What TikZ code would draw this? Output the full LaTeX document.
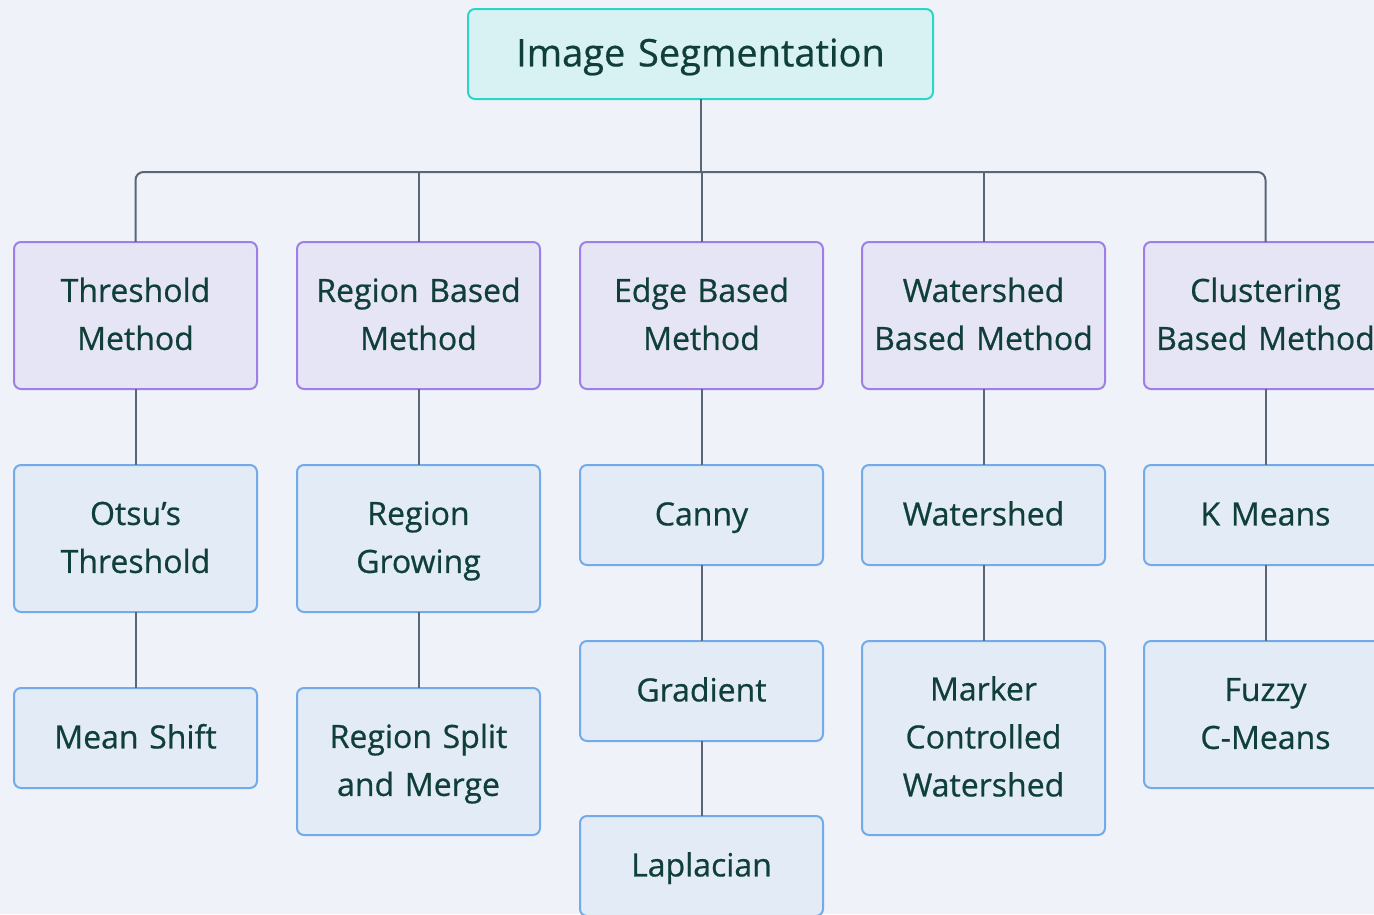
\documentclass[tikz,border=0pt]{standalone}
\usepackage{fontspec}
\setmainfont{Open Sans}[FakeBold=0.6]
\definecolor{bg}{HTML}{EFF3F9}
\definecolor{rootfill}{HTML}{D8F2F4}
\definecolor{rootline}{HTML}{2DD4C8}
\definecolor{purfill}{HTML}{E6E5F6}
\definecolor{purline}{HTML}{A07EE8}
\definecolor{bluefill}{HTML}{E2EBF6}
\definecolor{blueline}{HTML}{72AAEA}
\definecolor{txt}{HTML}{0F3F38}
\definecolor{conn}{HTML}{5A6675}
\tikzset{
  box/.style={draw, line width=2pt, rounded corners=7pt, anchor=north west,
    outer sep=0pt, minimum width=243pt, text width=240pt, align=center, inner sep=0pt,
    text=txt, font=\fontsize{32}{48}\selectfont,
    execute at begin node={\rule{0pt}{0.9em}},
    execute at end node={\rule[-0.25em]{0pt}{0.25em}}},
  rootbox/.style={box, fill=rootfill, draw=rootline, minimum width=465pt, text width=460pt,
    minimum height=90pt, font=\fontsize{38}{48}\selectfont},
  catbox/.style={box, fill=purfill, draw=purline, minimum height=147pt},
  one/.style={box, fill=bluefill, draw=blueline, minimum height=100pt},
  two/.style={box, fill=bluefill, draw=blueline, minimum height=147pt},
  three/.style={box, fill=bluefill, draw=blueline, minimum height=194pt},
  link/.style={draw=conn, line width=2pt}
}
\begin{document}
\begin{tikzpicture}[x=1pt, y=-1pt]
\fill[bg] (0,0) rectangle (1374,914);
\useasboundingbox (0,0) rectangle (1374,914);
\clip (0,0) rectangle (1374,914);
\node[rootbox] (root) at (468,9) {Image Segmentation};
\node[catbox] (c1) at (14,242) {Threshold\\Method};
\node[catbox] (c2) at (297,242) {Region Based\\Method};
\node[catbox] (c3) at (580,242) {Edge Based\\Method};
\node[catbox] (c4) at (862,242) {Watershed\\Based Method};
\node[catbox] (c5) at (1144,242) {Clustering\\Based Method};
\node[two] (a1) at (14,465) {Otsu’s\\Threshold};
\node[one] (a2) at (14,688) {Mean Shift};
\node[two] (b1) at (297,465) {Region\\Growing};
\node[two] (b2) at (297,688) {Region Split\\and Merge};
\node[one] (e1) at (580,465) {Canny};
\node[one] (e2) at (580,641) {Gradient};
\node[one] (e3) at (580,816) {Laplacian};
\node[one] (w1) at (862,465) {Watershed};
\node[three] (w2) at (862,641) {Marker\\Controlled\\Watershed};
\node[one] (k1) at (1144,465) {K Means};
\node[two] (k2) at (1144,641) {Fuzzy\\C-Means};
\coordinate (j) at (root.south |- 0,172);
\draw[link] (root.south) -- (j);
\draw[link, rounded corners=8pt] (c1.north) |- (j) -| (c5.north);
\foreach \n in {c2,c3,c4} \draw[link] (\n.north) -- (\n.north |- j);
\foreach \p/\q in {c1/a1,a1/a2,c2/b1,b1/b2,c3/e1,e1/e2,e2/e3,c4/w1,w1/w2,c5/k1,k1/k2}
  \draw[link] (\p.south) -- (\q.north);
\end{tikzpicture}
\end{document}
